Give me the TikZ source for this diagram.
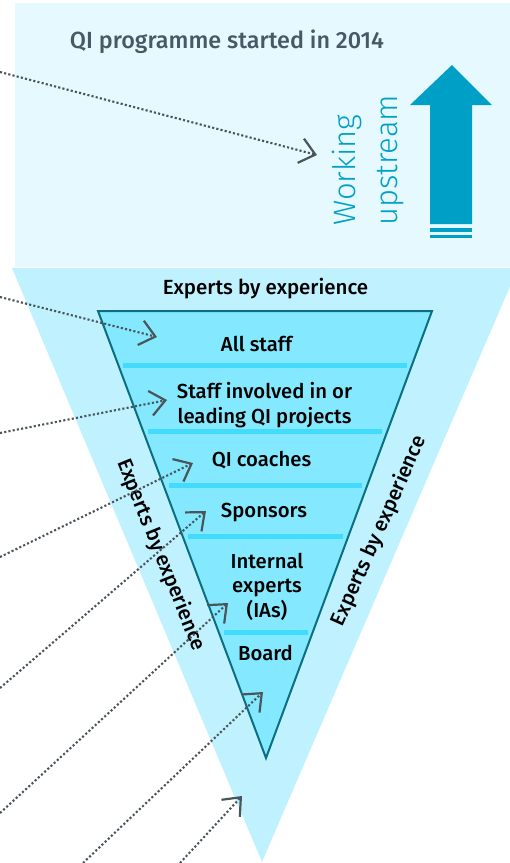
\documentclass[tikz,border=0pt]{standalone}
\usepackage{fontspec}
\setmainfont{Fira Sans}
\newfontfamily\lightfont{Fira Sans Light}
\newfontfamily\medfont{Fira Sans Medium}
\usetikzlibrary{arrows.meta,calc}

\definecolor{panelbg}{HTML}{E6F9FE}
\definecolor{funnelbg}{HTML}{BFF2FE}
\definecolor{layerbg}{HTML}{84E9FE}
\definecolor{layerline}{HTML}{0C6E82}
\definecolor{bandcol}{HTML}{42DBFC}
\definecolor{upcol}{HTML}{00A0C6}
\definecolor{titlecol}{HTML}{455A64}
\definecolor{pointcol}{HTML}{4A545A}

\tikzset{
  pointer/.style={pointcol, line width=2.1pt, dash pattern=on 2.1pt off 2.2pt,
    -{Straight Barb[length=15pt,width=25pt,line width=2.2pt]}},
  layer/.style={font=\medfont\fontsize{20.3}{24.5}\selectfont, text=black, align=center, inner sep=0pt},
  edgelabel/.style={font=\medfont\fontsize{20.5}{24}\selectfont, text=black, inner sep=0pt}
}

\begin{document}
\begin{tikzpicture}[x=1pt,y=-1pt]
\useasboundingbox (0,0) rectangle (510,863);
\clip (0,0) rectangle (510,863);

% Define points
\coordinate (PTL) at (15,3);
\coordinate (PBR) at (512,267);
\coordinate (FL) at (12,268);
\coordinate (FR) at (518,268);
\coordinate (FA) at (262,862);
\coordinate (TL) at (98,311);
\coordinate (TR) at (432,311);
\coordinate (TA) at (266,758);

% Arrow ends
\coordinate (s1) at (0,72);    \coordinate (t1) at (317,155);
\coordinate (s2) at (0,297);   \coordinate (t2) at (157,337);
\coordinate (s3) at (0,433);   \coordinate (t3) at (167,400);
\coordinate (s4) at (0,557);   \coordinate (t4) at (193,463);
\coordinate (s5) at (0,688);   \coordinate (t5) at (206,511);
\coordinate (s6) at (0,813);   \coordinate (t6) at (228,603);
\coordinate (s7) at (83,863);  \coordinate (t7) at (263,692);
\coordinate (s8) at (180,863); \coordinate (t8) at (242,796);

% Draw panel and funnels
\fill[panelbg] (PTL) rectangle (PBR);
\fill[funnelbg] (FL) -- (FR) -- (FA) -- cycle;
\fill[layerbg] (TL) -- (TR) -- (TA) -- cycle;
\foreach \y in {365,431.5,485.5,536.5,632}
  \fill[bandcol] ($(TL)!{(\y-311)/447}!(TA)+(5,-2.5)$) rectangle ($(TR)!{(\y-311)/447}!(TA)+(-5,2.5)$);
\draw[layerline, line width=2pt, line join=miter] (TL) -- (TR) -- (TA) -- cycle;

% Upstream arrow
\fill[upcol] (430,224) -- (430,105) -- (410,105) -- (452,65) -- (492,105) -- (472,105) -- (472,224) -- cycle;
\fill[upcol] (430,228) rectangle (472,232);
\fill[upcol] (430,235) rectangle (472,237.5);

% Labels
\node[anchor=base, inner sep=0pt, text=titlecol, font=\medfont\fontsize{23.4}{27}\selectfont] (title) at (227,48.5) {QI programme started in 2014};
\node[anchor=west, rotate=90, inner sep=0pt, align=left, text=upcol, font=\lightfont\fontsize{31}{42}\selectfont] (upstream) at (368,226) {Working\\upstream};
\node[edgelabel, anchor=base] (exptop) at (265.5,294.3) {Experts by experience};
\node[edgelabel, rotate=-68] (expleft) at (161,555) {Experts by experience};
\node[edgelabel, rotate=66] (expright) at (379,531) {Experts by experience};
\node[layer, anchor=base] (allstaff) at (256.5,351.7) {All staff};
\node[layer] (projects) at (264.5,405) {Staff involved in or\\leading QI projects};
\node[layer, anchor=base] (coaches) at (261.5,466.7) {QI coaches};
\node[layer, anchor=base] (sponsors) at (264,517) {Sponsors};
\node[layer] (internal) at (267,586.5) {Internal\\experts\\(IAs)};
\node[layer, anchor=base] (board) at (265.5,660.7) {Board};

% Pointers
\foreach \i in {1,...,8}
  \draw[pointer] (s\i) -- (t\i);

\end{tikzpicture}
\end{document}
